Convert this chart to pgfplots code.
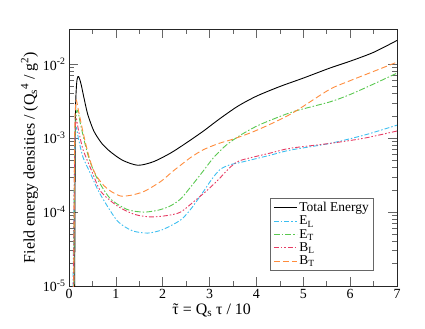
\documentclass[border=0pt]{standalone}
\usepackage{fontspec}
\setmainfont{Liberation Serif}
\usepackage{pgfplots}
\pgfplotsset{compat=1.18}

\definecolor{cEL}{RGB}{60,190,240}
\definecolor{cET}{RGB}{90,200,80}
\definecolor{cBL}{RGB}{230,60,100}
\definecolor{cBT}{RGB}{255,140,60}

\newcommand{\ttau}{\ooalign{τ\cr\hidewidth\char"02DC\hidewidth\cr}}

\begin{document}
\begin{tikzpicture}
\begin{axis}[
    scale only axis,
    width=328bp, height=257bp,
    at={(0,0)}, anchor=south west,
    ymode=log,
    xmin=0, xmax=7,
    ymin=1e-5, ymax=0.03,
    xtick={0,1,2,3,4,5,6,7},
    minor x tick num=1,
    ytick={1e-5,1e-4,1e-3,1e-2},
    yticklabels={10\textsuperscript{-5},10\textsuperscript{-4},10\textsuperscript{-3},10\textsuperscript{-2}},
    xticklabel pos=bottom,
    yticklabel pos=left,
    /pgf/number format/assume math mode=true,
    tick label style={font=\fontsize{14}{15}\selectfont},
    major tick length=9bp,
    minor tick length=5bp,
    every tick/.style={black!60, line width=0.6pt},
    axis line style={black!85, line width=0.9pt},
    xlabel={\ttau{} = Q\textsubscript{s} τ / 10},
    ylabel={Field energy densities / (Q\textsubscript{s}\textsuperscript{4} / g\textsuperscript{2})},
    label style={font=\fontsize{16}{18}\selectfont},
    x label style={at={(ticklabel cs:0.435)}, anchor=north, yshift=2bp},
    y label style={at={(ticklabel cs:0.5)}, anchor=south, yshift=-2bp},
    legend cell align=left,
    legend style={at={(0.93,0.06)}, anchor=south east,
        font=\fontsize{13.5}{14}\selectfont, draw=black!60, line width=0.6pt,
        inner xsep=3bp, inner ysep=2bp, row sep=-1bp},
    legend image code/.code={\draw[#1] (0bp,0bp) -- (23bp,0bp);},
    every axis plot/.append style={line width=0.9pt, smooth, tension=0.45},
]
% Total energy
\addplot[black, solid] coordinates {
 (0.12,5e-6) (0.135,1.5e-3) (0.16,5.2e-3) (0.19,6.8e-3) (0.22,6.5e-3) (0.26,5.3e-3)
 (0.32,3.5e-3) (0.4,2.1e-3) (0.53,1.25e-3) (0.7,8.5e-4) (0.89,6.5e-4) (1.15,5.0e-4)
 (1.47,4.3e-4) (1.8,4.8e-4) (2.17,6.3e-4) (2.5,8.6e-4) (2.87,1.25e-3) (3.2,1.8e-3)
 (3.6,2.7e-3) (4.0,3.7e-3) (4.5,5.0e-3) (5.0,6.5e-3) (5.57,8.9e-3) (6.0,1.1e-2)
 (6.5,1.45e-2) (7.0,2.1e-2)
};
\addlegendentry{Total Energy}
% E_L
\addplot[cEL, dash pattern=on 5bp off 2bp on 1.5bp off 2bp] coordinates {
 (0.08,5e-6) (0.12,5e-4) (0.15,1.4e-3) (0.2,1.0e-3) (0.3,5.5e-4) (0.47,3.2e-4)
 (0.6,2.1e-4) (0.74,1.45e-4) (1.04,7.5e-5) (1.35,5.6e-5) (1.68,5.2e-5) (2.0,5.8e-5)
 (2.38,7.8e-5) (2.6,1.1e-4) (2.87,1.9e-4) (3.05,2.8e-4) (3.23,3.8e-4) (3.45,4.4e-4)
 (3.66,4.7e-4) (4.3,5.9e-4) (4.72,6.9e-4) (5.57,8.5e-4) (6.3,1.1e-3) (7.0,1.5e-3)
};
\addlegendentry{E\textsubscript{L}}
% E_T
\addplot[cET, dash pattern=on 6bp off 2bp on 1.5bp off 2bp] coordinates {
 (0.1,5e-6) (0.125,8e-4) (0.17,2.4e-3) (0.25,1.5e-3) (0.35,8e-4) (0.45,4.8e-4)
 (0.62,2.7e-4) (0.89,1.5e-4) (1.25,1.08e-4) (1.6,1.0e-4) (1.9,1.06e-4) (2.15,1.2e-4)
 (2.38,1.5e-4) (2.6,2.2e-4) (2.85,3.5e-4) (3.09,5.5e-4) (3.35,8e-4) (3.66,1.1e-3)
 (4.0,1.45e-3) (4.3,1.75e-3) (4.8,2.3e-3) (5.57,3.1e-3) (6.0,3.9e-3) (6.5,5.4e-3)
 (7.0,7.6e-3)
};
\addlegendentry{E\textsubscript{T}}
% B_L
\addplot[cBL, dash pattern=on 5bp off 2bp on 1.5bp off 2bp on 1.5bp off 2bp] coordinates {
 (0.09,5e-6) (0.12,6e-4) (0.15,1.8e-3) (0.2,1.3e-3) (0.3,7e-4) (0.47,3.8e-4)
 (0.68,1.9e-4) (1.04,1.2e-4) (1.4,9.3e-5) (1.75,8.6e-5) (2.1,9e-5) (2.38,1.0e-4)
 (2.7,1.45e-4) (2.96,2.0e-4) (3.2,2.8e-4) (3.45,4.1e-4) (3.66,5.0e-4) (4.3,6.3e-4)
 (4.72,7.3e-4) (5.57,8.5e-4) (6.3,1.0e-3) (7.0,1.25e-3)
};
\addlegendentry{B\textsubscript{L}}
% B_T
\addplot[cBT, dash pattern=on 6bp off 3bp] coordinates {
 (0.1,5e-6) (0.12,1e-3) (0.15,3.2e-3) (0.2,2.4e-3) (0.3,1.2e-3) (0.4,6.5e-4)
 (0.5,4e-4) (0.6,3e-4) (0.74,2.3e-4) (0.9,1.9e-4) (1.1,1.65e-4) (1.3,1.68e-4)
 (1.6,1.9e-4) (1.96,2.6e-4) (2.2,3.5e-4) (2.38,4.3e-4) (2.6,5.5e-4) (2.87,7.0e-4)
 (3.2,8.5e-4) (3.5,9.7e-4) (3.9,1.2e-3) (4.3,1.55e-3) (4.72,2.1e-3) (5.0,2.7e-3)
 (5.57,4.6e-3) (6.0,6.0e-3) (6.5,8.0e-3) (7.0,1.07e-2)
};
\addlegendentry{B\textsubscript{T}}
\end{axis}
\path (-69bp,-43bp) rectangle (356bp,286bp);
\end{tikzpicture}
\end{document}
